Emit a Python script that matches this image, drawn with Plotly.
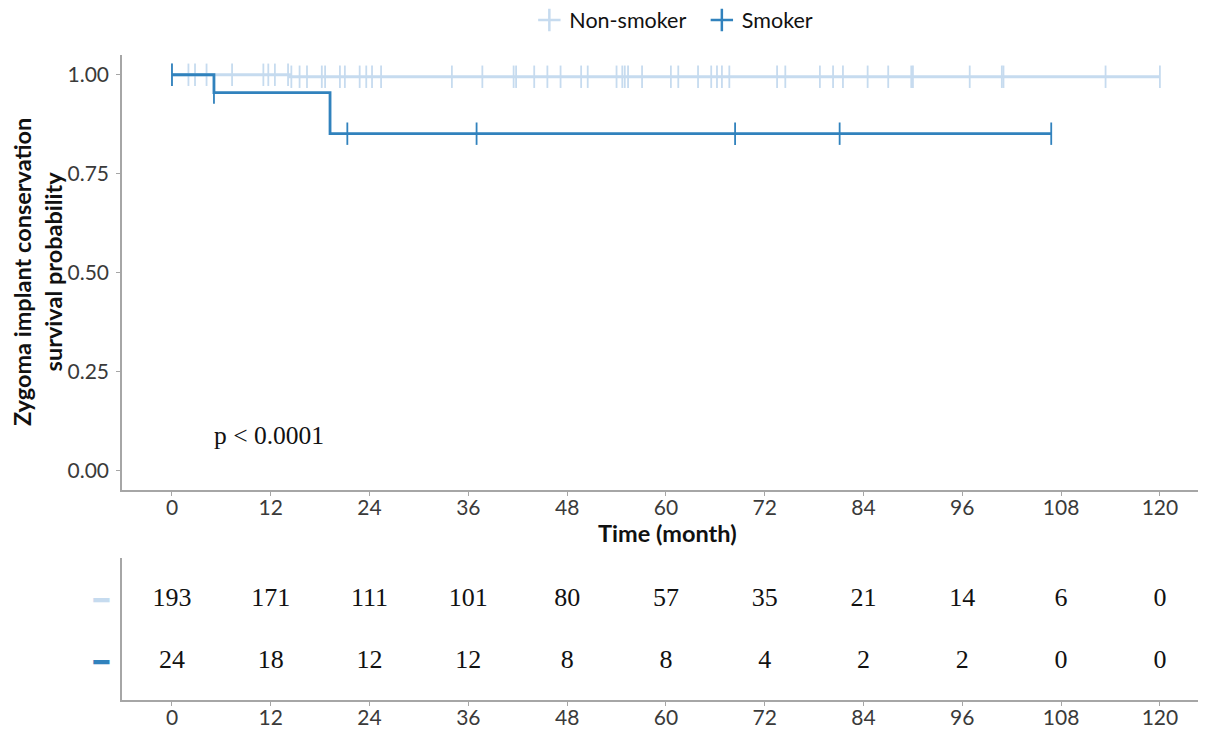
import numpy as np
import plotly.graph_objects as go

# ---------------- data ----------------
month_ticks = [0, 12, 24, 36, 48, 60, 72, 84, 96, 108, 120]
surv_ticks = [0.0, 0.25, 0.5, 0.75, 1.0]
surv_tick_labels = ["0.00", "0.25", "0.50", "0.75", "1.00"]

nonsmoker_step_t = [0, 14.3, 120]
nonsmoker_step_s = [1.0, 0.995, 0.995]
smoker_step_t = [0, 5.1, 19.2, 106.8]
smoker_step_s = [1.0, 0.955, 0.851, 0.851]

nonsmoker_censor = [0.0, 2.0, 2.8, 4.2, 7.3, 11.1, 11.7, 12.5, 14.1, 14.5, 15.5, 16.4,
                    18.2, 18.6, 20.4, 21.0, 22.8, 23.6, 24.3, 25.4, 34.0, 37.7, 41.5,
                    41.8, 44.0, 45.6, 47.2, 49.7, 50.5, 54.0, 54.7, 55.0, 55.4, 57.1,
                    60.6, 61.5, 63.9, 65.5, 66.2, 66.8, 67.7, 73.5, 74.5, 78.7, 80.3,
                    81.5, 84.5, 87.0, 89.8, 90.0, 96.9, 100.8, 101.0, 113.4, 120.0]
smoker_censor = [0.0, 5.1, 21.3, 37.0, 68.4, 81.1, 106.8]

risk_nonsmoker = [193, 171, 111, 101, 80, 57, 35, 21, 14, 6, 0]
risk_smoker = [24, 18, 12, 12, 8, 8, 4, 2, 2, 0, 0]

group_names = ["Non-smoker", "Smoker"]
p_text = "p < 0.0001"

# ---------------- style ----------------
C_NON = "#c6dbef"
C_SMK = "#3182bd"
SANS = "Lato"
SERIF = "Liberation Serif"
AXIS_COL = "#a6a6a6"
TICK_FONT = dict(family=SANS, size=21, color="#3a3a3a")


def surv_at(times, step_t, step_s):
    idx = np.searchsorted(np.array(step_t), np.array(times), side="right") - 1
    return np.array(step_s)[idx]


fig = go.Figure()

# Non-smoker curve + censor marks
fig.add_trace(go.Scatter(x=nonsmoker_step_t, y=nonsmoker_step_s, mode="lines",
                         line=dict(color=C_NON, width=2.8, shape="hv"),
                         showlegend=False, hoverinfo="skip", xaxis="x", yaxis="y"))
fig.add_trace(go.Scatter(x=nonsmoker_censor,
                         y=surv_at(nonsmoker_censor, nonsmoker_step_t, nonsmoker_step_s),
                         mode="markers",
                         marker=dict(symbol="line-ns", size=16, color=C_NON,
                                     line=dict(width=1.8, color=C_NON)),
                         showlegend=False, xaxis="x", yaxis="y"))
# Smoker curve + censor marks
fig.add_trace(go.Scatter(x=smoker_step_t, y=smoker_step_s, mode="lines",
                         line=dict(color=C_SMK, width=2.8, shape="hv"),
                         showlegend=False, hoverinfo="skip", xaxis="x", yaxis="y"))
fig.add_trace(go.Scatter(x=smoker_censor,
                         y=surv_at(smoker_censor, smoker_step_t, smoker_step_s),
                         mode="markers",
                         marker=dict(symbol="line-ns", size=16, color=C_SMK,
                                     line=dict(width=1.8, color=C_SMK)),
                         showlegend=False, xaxis="x", yaxis="y"))

# legend entries
legend_labels = [group_names[0] + "\u00a0\u00a0", group_names[1]]
for name, col in zip(legend_labels, [C_NON, C_SMK]):
    fig.add_trace(go.Scatter(x=[None], y=[None], mode="markers", name=name,
                             marker=dict(symbol="cross-thin", size=16, color=col,
                                         line=dict(width=2.5, color=col)),
                             xaxis="x", yaxis="y"))

# risk table
fig.add_trace(go.Scatter(x=month_ticks, y=[2] * len(month_ticks), mode="text",
                         text=[str(v) for v in risk_nonsmoker],
                         textfont=dict(family=SERIF, size=26, color="#111"),
                         showlegend=False, xaxis="x2", yaxis="y2"))
fig.add_trace(go.Scatter(x=month_ticks, y=[1] * len(month_ticks), mode="text",
                         text=[str(v) for v in risk_smoker],
                         textfont=dict(family=SERIF, size=26, color="#111"),
                         showlegend=False, xaxis="x2", yaxis="y2"))

X_RANGE = [-6.07, 125.6]
common_x = dict(range=X_RANGE, tickvals=month_ticks, ticks="outside", ticklen=4,
                tickcolor=AXIS_COL, tickwidth=1.2, showline=True, linecolor=AXIS_COL,
                linewidth=1.5, showgrid=False, zeroline=False, tickfont=TICK_FONT,
                automargin=False, ticklabelstandoff=-6)

# the page body adds an 8px offset, so the figure is 8px smaller than the window
fig.update_layout(
    width=1198, height=724,
    margin=dict(l=114, r=0, t=47, b=32, autoexpand=False),
    paper_bgcolor="white", plot_bgcolor="white",
    xaxis=dict(domain=[0, 1], anchor="y", **common_x),
    yaxis=dict(domain=[0.3256, 1], range=[-0.05, 1.05], tickvals=surv_ticks,
               ticktext=surv_tick_labels, ticks="outside", ticklen=4,
               tickcolor=AXIS_COL, tickwidth=1.2, showline=True, linecolor=AXIS_COL,
               linewidth=1.5, showgrid=False, zeroline=False, tickfont=TICK_FONT,
               automargin=False, ticklabelstandoff=3),
    xaxis2=dict(domain=[0, 1], anchor="y2", **common_x),
    yaxis2=dict(domain=[0, 0.2202], range=[0.387, 2.677], tickvals=[1, 2],
                ticktext=[f"<span style='color:{C_SMK}'>━</span>",
                          f"<span style='color:{C_NON}'>━</span>"],
                ticks="", showline=True, linecolor=AXIS_COL, linewidth=1.5,
                showgrid=False, zeroline=False, ticklabelstandoff=6,
                tickfont=dict(family="DejaVu Sans", size=26), automargin=False),
    legend=dict(orientation="h", xref="container", yref="container",
                x=0.5558, xanchor="center", y=0.9834, yanchor="middle",
                font=dict(family=SANS, size=21.5, color="#111"), itemwidth=30,
                bgcolor="rgba(0,0,0,0)"),
    font=dict(family=SANS),
    annotations=[
        dict(text="<b>Zygoma implant conservation<br>survival probability</b>",
             xref="paper", yref="paper", x=-0.0775, y=0.6636, textangle=-90,
             showarrow=False, xanchor="center", yanchor="middle",
             font=dict(family=SANS, size=23.5, color="#111")),
        dict(text="<b>Time (month)</b>", xref="paper", yref="paper", x=0.503, y=0.259,
             showarrow=False, xanchor="center", yanchor="middle",
             font=dict(family=SANS, size=23.5, color="#111")),
        dict(text=p_text, xref="x", yref="y", x=4.86, y=0.089, showarrow=False,
             xanchor="left", yanchor="middle",
             font=dict(family=SERIF, size=25.5, color="#111")),
    ],
)

fig.write_html("out.html")
